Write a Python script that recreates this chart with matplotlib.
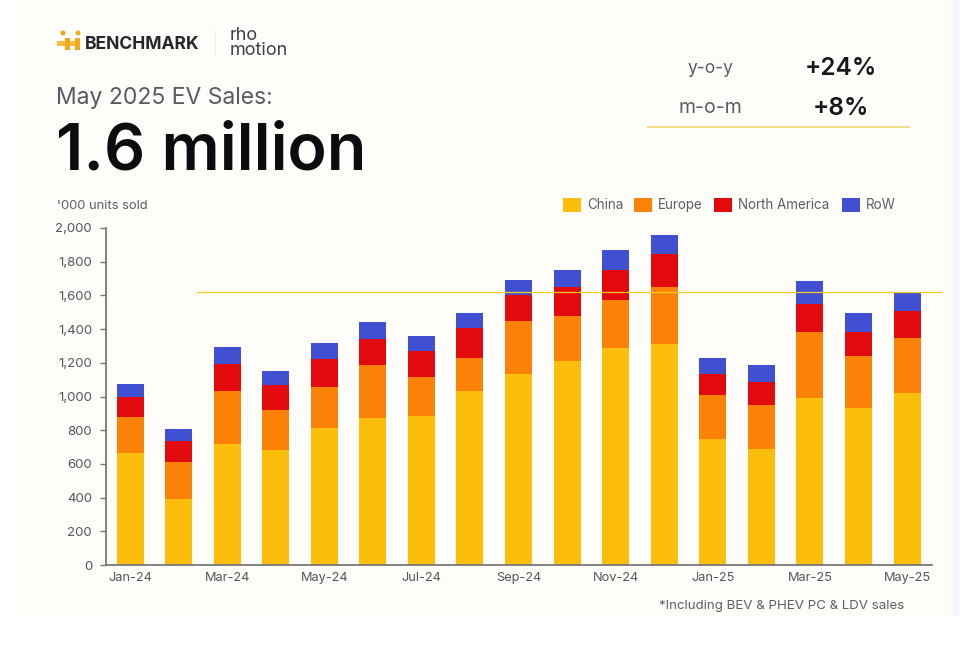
import matplotlib
matplotlib.use("Agg")
import matplotlib.pyplot as plt
from matplotlib.patches import Rectangle, Circle
import numpy as np

W, H = 960, 658

# datos ('000 unidades)
meses = ["Jan-24", "Feb-24", "Mar-24", "Apr-24", "May-24", "Jun-24", "Jul-24", "Aug-24", "Sep-24",
         "Oct-24", "Nov-24", "Dec-24", "Jan-25", "Feb-25", "Mar-25", "Apr-25", "May-25"]
china = [665, 390, 720, 685, 815, 870, 885, 1035, 1135, 1210, 1285, 1310, 750, 690, 990, 930, 1020]
europe = [215, 220, 315, 233, 243, 315, 230, 195, 315, 270, 290, 340, 260, 260, 395, 310, 330]
north_america = [115, 125, 155, 150, 167, 155, 155, 175, 150, 170, 175, 195, 125, 135, 165, 145, 160]
row = [80, 70, 102, 82, 90, 100, 92, 92, 90, 100, 120, 115, 95, 100, 135, 112, 110]
nivel_mayo = 1620

series = [("China", china, "#FDBE0B"), ("Europe", europe, "#FB8207"),
          ("North America", north_america, "#E30A0E"), ("RoW", row, "#4150D2")]

plt.rcParams['font.family'] = ['Inter', 'DejaVu Sans']

fig = plt.figure(figsize=(W / 100, H / 100), dpi=100, facecolor="white")


def caja(x0, y0, x1, y1, color):
    # rectangulo en pixeles de la imagen (origen arriba a la izquierda)
    fig.patches.append(Rectangle((x0 / W, 1 - y1 / H), (x1 - x0) / W, (y1 - y0) / H,
                                 transform=fig.transFigure, color=color, lw=0, zorder=-5))


def punto(x, y, r, color):
    fig.patches.append(Circle((x, H - y), r, transform=None, color=color, lw=0))


def texto(x, y, s, **kw):
    kw.setdefault("va", "baseline")
    return fig.text(x / W, 1 - y / H, s, **kw)


# fondo del panel
caja(18, 0, 946, 616, "#FEFDF9")
caja(946, 0, 953, 616, "#FBFBF9")
caja(953, 0, 960, 616, "#F3F6FC")

# ejes
x_izq, x_der, y_arr, y_aba = 106, 932, 228, 565
ax = fig.add_axes([x_izq / W, 1 - y_aba / H, (x_der - x_izq) / W, (y_aba - y_arr) / H])
ax.patch.set_alpha(0)
paso = (907 - 130) / 16
ax.set_xlim((x_izq - 130) / paso, (x_der - 130) / paso)
ax.set_ylim(0, 2000)

x = np.arange(len(meses))
base = np.zeros(len(meses))
for nombre, valores, color in series:
    ax.bar(x, valores, bottom=base, width=27 / paso, color=color, label=nombre, lw=0, zorder=2)
    base = base + np.array(valores)

# linea de referencia
ax.plot([(197 - 130) / paso, (941 - 130) / paso], [nivel_mayo, nivel_mayo], color="#F0CB1E",
        lw=0.9, clip_on=False, zorder=3)

ax.set_yticks(np.arange(0, 2001, 200))
ax.set_yticklabels([f"{v:,}" for v in range(0, 2001, 200)], fontsize=9.5, color="#55555C")
ax.set_xticks(x[::2])
ax.set_xticklabels(meses[::2], fontsize=9.2, color="#55555C")
ax.tick_params(axis="x", length=0, pad=5)
ax.tick_params(axis="y", length=4, width=1, color="#77777A", pad=6)
for lado in ["top", "right"]:
    ax.spines[lado].set_visible(False)
for lado in ["left", "bottom"]:
    ax.spines[lado].set_color("#77777A")
    ax.spines[lado].set_linewidth(1.3)

# leyenda a mano para fijar las posiciones
pos_leyenda = [563, 634, 714, 842]
for x0, (nombre, _, color) in zip(pos_leyenda, series):
    caja(x0, 198, x0 + 18, 212, color)
    texto(x0 + 24, 209, nombre, fontsize=9.7, color="#5E5E66", ha="left")

# encabezado
texto(85, 49, "BENCHMARK", fontsize=12.6, fontweight="bold", color="#26262C", ha="left")
texto(230, 55, "rho\nmotion", fontsize=13, color="#3E3E46", ha="left", linespacing=0.85)
caja(215, 30, 216, 56, "#F1EEDF")

# logo simplificado
caja(57, 41, 80, 46, "#F7BE45")
caja(65, 38, 70, 50, "#F2A818")
caja(75, 38, 80, 50, "#F2A818")
punto(63, 33, 2.5, "#F2A818")
punto(78, 33, 2.5, "#F2A818")

texto(56, 104, "May 2025 EV Sales:", fontsize=16.5, color="#5A5A63", ha="left")
texto(56, 170, "1.6 million", fontsize=46.5, fontweight="semibold", color="#0C0C10", ha="left")
texto(57, 209, "'000 units sold", fontsize=9.4, color="#5E5E66", ha="left")

# recuadro y-o-y / m-o-m
texto(710, 73, "y-o-y", fontsize=12.5, color="#5A5A63", ha="center")
texto(841, 75, "+24%", fontsize=17.5, fontweight="semibold", color="#16161A", ha="center")
texto(710, 113, "m-o-m", fontsize=14, color="#5A5A63", ha="center")
texto(841, 115, "+8%", fontsize=17.5, fontweight="semibold", color="#16161A", ha="center")
caja(647, 126, 910, 127.5, "#F0DC8C")

texto(904, 609, "*Including BEV & PHEV PC & LDV sales", fontsize=9.6, color="#5E5E66", ha="right")

fig.savefig("out.png", dpi=100, facecolor=fig.get_facecolor())
